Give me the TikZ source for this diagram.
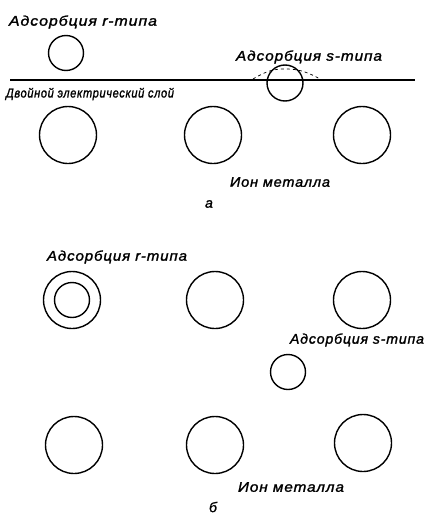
\documentclass[tikz,border=0pt]{standalone}
\usepackage{graphicx}
\usepackage{fontspec}
\setmainfont{Liberation Sans}
\newfontfamily\lbl[LetterSpace=6,FakeBold=1.5]{Liberation Sans Italic}
\newcommand\fitw[2]{\resizebox{#1}{\height}{#2}}
\begin{document}
\begin{tikzpicture}[x=1pt,y=-1pt,
  atom/.style={draw,circle,line width=1.4pt,inner sep=0pt},
  ion/.style={atom,minimum size=57pt},
  ads/.style={atom,minimum size=35pt},
  lab/.style={font=\lbl\fontsize{14}{16}\selectfont,inner sep=0pt}]
\useasboundingbox (0,0) rectangle (428,514);
% part a
\node[lab] (ra) at (83,22) {\fitw{148pt}{Адсорбция r-типа}};
\node[ads] (rca) at (66,53) {};
\draw[line width=1.3pt] (10,80) coordinate (l1) -- (415,80) coordinate (l2);
\node[lab] (sa) at (309,57) {\fitw{146pt}{Адсорбция s-типа}};
\node[ads,minimum size=36pt] (sca) at (285,83) {};
\draw[dashed,line width=0.7pt] (253,79) .. controls (268,70) and (275,69) .. (285,69) .. controls (295,69) and (304,70) .. (320,79);
\node[lab,font=\lbl\fontsize{13}{15}\selectfont] (dl) at (90,94) {\fitw{168pt}{Двойной электрический слой}};
\node[ion] (i1) at (68,135) {};
\node[ion] (i2) at (213,135) {};
\node[ion] (i3) at (362,135) {};
\node[lab] (ma) at (280,182) {\fitw{100pt}{Ион металла}};
\node[lab] (a) at (209,204) {а};
% part b
\node[lab] (rb) at (117,257) {\fitw{140pt}{Адсорбция r-типа}};
\node[ion] (j1) at (72,300) {};
\node[ads] (rcb) at (72,300) {};
\node[ion] (j2) at (215,300) {};
\node[ion] (j3) at (362,300) {};
\node[lab] (sb) at (357,340) {\fitw{134pt}{Адсорбция s-типа}};
\node[ads] (scb) at (288,372) {};
\node[ion] (k1) at (74,445) {};
\node[ion] (k2) at (215,445) {};
\node[ion] (k3) at (363,443) {};
\node[lab] (mb) at (291,487) {\fitw{106pt}{Ион металла}};
\node[lab] (b) at (213,507) {б};
\end{tikzpicture}
\end{document}
